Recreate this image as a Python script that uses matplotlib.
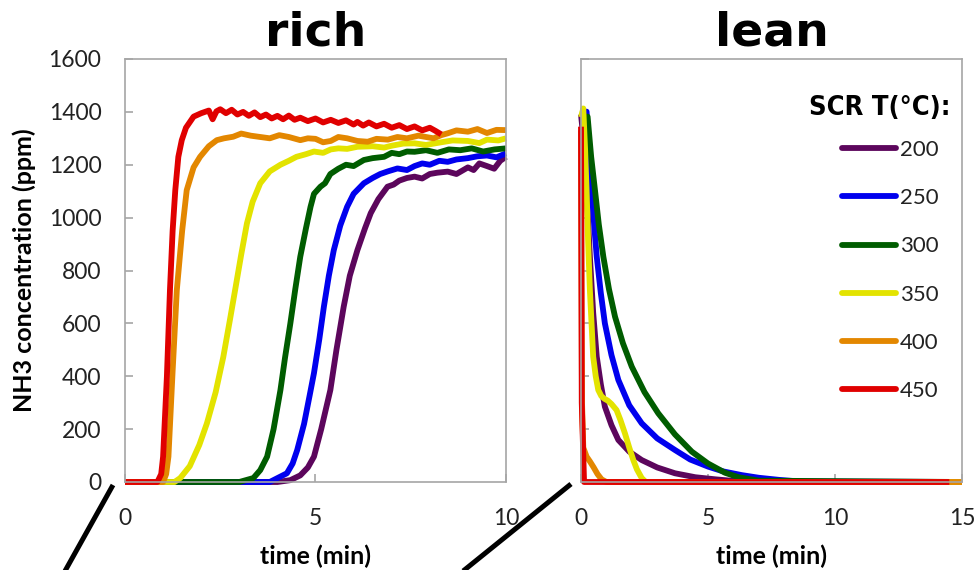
import matplotlib
matplotlib.use("Agg")
import matplotlib.pyplot as plt
from matplotlib.lines import Line2D

# ---- data: NH3 concentration (ppm) vs time (min) ----
temps = ["200", "250", "300", "350", "400", "450"]
colors = ["#5c065c", "#0000ee", "#005c00", "#e3e300", "#e38700", "#e00000"]

# rich phase
rich_t_200 = [0, 4.0, 4.34, 4.6, 4.8, 4.96, 5.15, 5.39, 5.55, 5.74, 5.9, 6.1, 6.3, 6.45, 6.65,
              6.89, 7.05, 7.2, 7.4, 7.6, 7.8, 8.0, 8.2, 8.47, 8.7, 9.0, 9.15, 9.3, 9.5, 9.69,
              9.85, 10]
rich_y_200 = [0, 0, 7, 25, 55, 96, 200, 348, 500, 663, 780, 877, 960, 1017, 1070,
              1117, 1125, 1140, 1150, 1155, 1148, 1165, 1170, 1174, 1165, 1190, 1180, 1205,
              1195, 1185, 1215, 1230]
rich_t_250 = [0, 3.8, 4.25, 4.4, 4.52, 4.7, 4.85, 4.96, 5.1, 5.22, 5.35, 5.48, 5.65, 5.83, 6.0,
              6.27, 6.5, 6.7, 6.9, 7.15, 7.4, 7.6, 7.8, 8.0, 8.25, 8.47, 8.7, 9.0, 9.25, 9.5,
              9.75, 10]
rich_y_250 = [0, 0, 33, 70, 121, 220, 330, 412, 540, 663, 780, 877, 970, 1041, 1090,
              1130, 1150, 1165, 1175, 1186, 1180, 1195, 1205, 1200, 1215, 1211, 1220, 1225,
              1232, 1235, 1228, 1243]
rich_t_300 = [0, 3.0, 3.37, 3.55, 3.73, 3.9, 4.08, 4.2, 4.34, 4.47, 4.6, 4.75, 4.87, 4.96, 5.13,
              5.25, 5.39, 5.6, 5.8, 6.0, 6.27, 6.5, 6.8, 7.0, 7.2, 7.4, 7.6, 7.9, 8.2, 8.5, 8.8,
              9.1, 9.4, 9.7, 10]
rich_y_300 = [0, 0, 15, 45, 96, 200, 348, 470, 600, 730, 852, 960, 1041, 1090, 1117,
              1130, 1165, 1185, 1200, 1195, 1218, 1225, 1230, 1245, 1240, 1250, 1249, 1255,
              1245, 1258, 1255, 1262, 1250, 1258, 1262]
rich_t_350 = [0, 1.3, 1.45, 1.7, 1.95, 2.15, 2.38, 2.58, 2.75, 2.89, 3.05, 3.2, 3.35, 3.55, 3.8,
              4.08, 4.3, 4.5, 4.75, 4.96, 5.2, 5.4, 5.6, 5.83, 6.1, 6.5, 6.8, 7.0, 7.3, 7.6,
              7.9, 8.3, 8.6, 9.0, 9.3, 9.5, 9.8, 10]
rich_y_350 = [0, 0, 15, 60, 140, 222, 340, 473, 610, 726, 860, 978, 1060, 1130, 1175,
              1200, 1215, 1230, 1240, 1250, 1245, 1258, 1262, 1260, 1268, 1270, 1265, 1272,
              1280, 1281, 1275, 1285, 1292, 1290, 1282, 1295, 1292, 1300]
rich_t_400 = [0, 1.0, 1.08, 1.14, 1.25, 1.36, 1.5, 1.62, 1.8, 1.97, 2.2, 2.41, 2.6, 2.84, 3.05,
              3.3, 3.55, 3.8, 4.05, 4.3, 4.6, 4.8, 5.0, 5.2, 5.4, 5.6, 5.83, 6.1, 6.37, 6.6,
              6.9, 7.15, 7.4, 7.7, 8.1, 8.3, 8.47, 8.7, 9.0, 9.25, 9.5, 9.75, 10]
rich_y_400 = [0, 0, 30, 96, 420, 726, 950, 1104, 1190, 1230, 1270, 1293, 1300, 1306, 1318,
              1310, 1305, 1300, 1312, 1305, 1293, 1300, 1298, 1285, 1290, 1305, 1300, 1290,
              1287, 1298, 1295, 1305, 1300, 1310, 1300, 1312, 1319, 1330, 1325, 1335, 1320,
              1332, 1331]
rich_t_450 = [0, 0.85, 0.95, 1.0, 1.1, 1.18, 1.25, 1.32, 1.4, 1.49, 1.6, 1.8, 2.0, 2.2, 2.3,
              2.4, 2.5, 2.65, 2.8, 2.95, 3.1, 3.25, 3.4, 3.55, 3.7, 3.85, 4.0, 4.15, 4.3, 4.45,
              4.6, 4.8, 5.0, 5.2, 5.4, 5.6, 5.8, 6.0, 6.1, 6.25, 6.4, 6.6, 6.8, 7.0, 7.2, 7.4,
              7.6, 7.8, 8.0, 8.15, 8.3]
rich_y_450 = [0, 0, 30, 96, 400, 726, 950, 1104, 1230, 1293, 1340, 1382, 1395, 1405, 1372,
              1402, 1410, 1395, 1408, 1390, 1400, 1385, 1398, 1380, 1390, 1375, 1385, 1372,
              1386, 1370, 1378, 1365, 1375, 1360, 1370, 1358, 1368, 1352, 1362, 1348, 1360,
              1345, 1355, 1340, 1350, 1335, 1345, 1330, 1340, 1328, 1315]

# lean phase
lean_t_200 = [0, 0.15, 0.25, 0.35, 0.48, 0.62, 0.78, 0.94, 1.2, 1.47, 1.9, 2.39, 3.0, 3.7,
              4.5, 5.3, 6.0, 6.8, 15]
lean_y_200 = [1390, 1250, 1050, 852, 640, 474, 370, 285, 215, 159, 115, 83, 55, 33,
              18, 10, 4, 0, 0]
lean_t_250 = [0, 0.22, 0.32, 0.42, 0.52, 0.62, 0.78, 0.94, 1.2, 1.47, 1.9, 2.39, 3.0, 3.7,
              4.3, 5.01, 5.6, 6.33, 7.0, 7.8, 8.6, 15]
lean_y_250 = [1390, 1401, 1240, 1104, 970, 852, 715, 600, 480, 386, 290, 222, 165, 121,
              85, 58, 40, 26, 16, 8, 2, 0]
lean_t_300 = [0, 0.26, 0.4, 0.55, 0.7, 0.88, 1.1, 1.34, 1.65, 2.0, 2.5, 3.04, 3.7, 4.36,
              5.0, 5.67, 6.2, 7.0, 15]
lean_y_300 = [1380, 1382, 1230, 1104, 975, 852, 730, 625, 525, 436, 340, 260, 180, 115,
              70, 35, 18, 5, 0]
lean_t_350 = [0, 0.09, 0.16, 0.22, 0.28, 0.35, 0.42, 0.48, 0.58, 0.68, 0.8, 0.92, 1.05,
              1.2, 1.4, 1.55, 1.73, 1.9, 2.06, 2.2, 2.39, 2.55, 15]
lean_y_350 = [1380, 1413, 1260, 1104, 910, 726, 590, 474, 400, 348, 325, 315, 308,
              295, 272, 235, 184, 130, 83, 48, 15, 0, 0]
lean_t_400 = [0, 0.04, 0.09, 0.22, 0.35, 0.5, 0.65, 0.81, 1.0, 15]
lean_y_400 = [1330, 300, 130, 96, 78, 55, 30, 10, 0, 0]
lean_t_450 = [0, 0.03, 0.12, 14.5]
lean_y_450 = [1344, 300, 0, 0]

rich_series = [(rich_t_200, rich_y_200), (rich_t_250, rich_y_250), (rich_t_300, rich_y_300),
               (rich_t_350, rich_y_350), (rich_t_400, rich_y_400), (rich_t_450, rich_y_450)]
lean_series = [(lean_t_200, lean_y_200), (lean_t_250, lean_y_250), (lean_t_300, lean_y_300),
               (lean_t_350, lean_y_350), (lean_t_400, lean_y_400), (lean_t_450, lean_y_450)]

y_ticks = [0, 200, 400, 600, 800, 1000, 1200, 1400, 1600]
rich_x_ticks = [0, 5, 10]
lean_x_ticks = [0, 5, 10, 15]

# ---- figure ----
W, H = 978, 570
fig = plt.figure(figsize=(W / 100, H / 100), dpi=100)
base = ["Lato", "DejaVu Sans"]
spine_col = "#a6a6a6"
LW = 4.2


def style(ax, xmax, xticks, ylabels):
    ax.set_xlim(0, xmax)
    ax.set_ylim(0, 1600)
    for s in ax.spines.values():
        s.set_color(spine_col)
        s.set_linewidth(1.2)
    ax.set_xticks(xticks)
    ax.set_yticks(y_ticks)
    ax.tick_params(axis="both", direction="in", length=6, color=spine_col, width=1.2)
    ax.tick_params(axis="x", pad=19)
    ax.tick_params(axis="y", pad=17, labelleft=ylabels)
    for lab in ax.get_xticklabels() + ax.get_yticklabels():
        lab.set_family(base)
        lab.set_fontsize(16.5)
        lab.set_color("#222222")
    ax.set_xlabel("time (min)", family=base, fontsize=18, fontweight="bold", labelpad=11)


ax1 = fig.add_axes([125 / W, 1 - 482 / H, 381 / W, 423 / H])
ax2 = fig.add_axes([581 / W, 1 - 482 / H, 381 / W, 423 / H])

for (t, y), c in zip(rich_series, colors):
    ax1.plot(t, y, color=c, lw=LW, solid_joinstyle="round", solid_capstyle="butt", clip_on=False)
for (t, y), c in zip(lean_series, colors):
    ax2.plot(t, y, color=c, lw=LW, solid_joinstyle="round", solid_capstyle="butt", clip_on=False)

style(ax1, 10, rich_x_ticks, True)
style(ax2, 15, lean_x_ticks, False)
ax1.set_ylabel("NH3 concentration (ppm)", family=base, fontsize=18, fontweight="bold", labelpad=9)

ax1.set_title("rich", family="DejaVu Sans", fontweight="bold", fontsize=34, pad=10)
ax2.set_title("lean", family="DejaVu Sans", fontweight="bold", fontsize=34, pad=10)

# legend entries, with its heading set as a separate text
handles = [Line2D([], [], color=c, lw=4.2, solid_capstyle="round") for c in colors]
leg = ax2.legend(handles, temps, loc="upper left", bbox_to_anchor=(842 / W, 1 - 140 / H),
                 bbox_transform=fig.transFigure, frameon=False, borderpad=0, borderaxespad=0,
                 handlelength=2.45, handletextpad=0.15, labelspacing=1.27,
                 prop={"family": base, "size": 16})
for txt in leg.get_texts():
    txt.set_color("#222222")
fig.text(951 / W, 1 - 108 / H, "SCR T(°C):", ha="right", va="center",
         family="DejaVu Sans", fontstretch="condensed", fontweight="bold", fontsize=19.5)

# connector strokes below the panels
fig.add_artist(Line2D([113 / W, 60 / W], [1 - 485 / H, 1 - 580 / H], transform=fig.transFigure,
                      color="black", lw=3.6, solid_capstyle="butt"))
fig.add_artist(Line2D([571 / W, 452 / W], [1 - 484 / H, 1 - 580 / H], transform=fig.transFigure,
                      color="black", lw=3.6, solid_capstyle="butt"))

fig.savefig("out.png", dpi=100)
